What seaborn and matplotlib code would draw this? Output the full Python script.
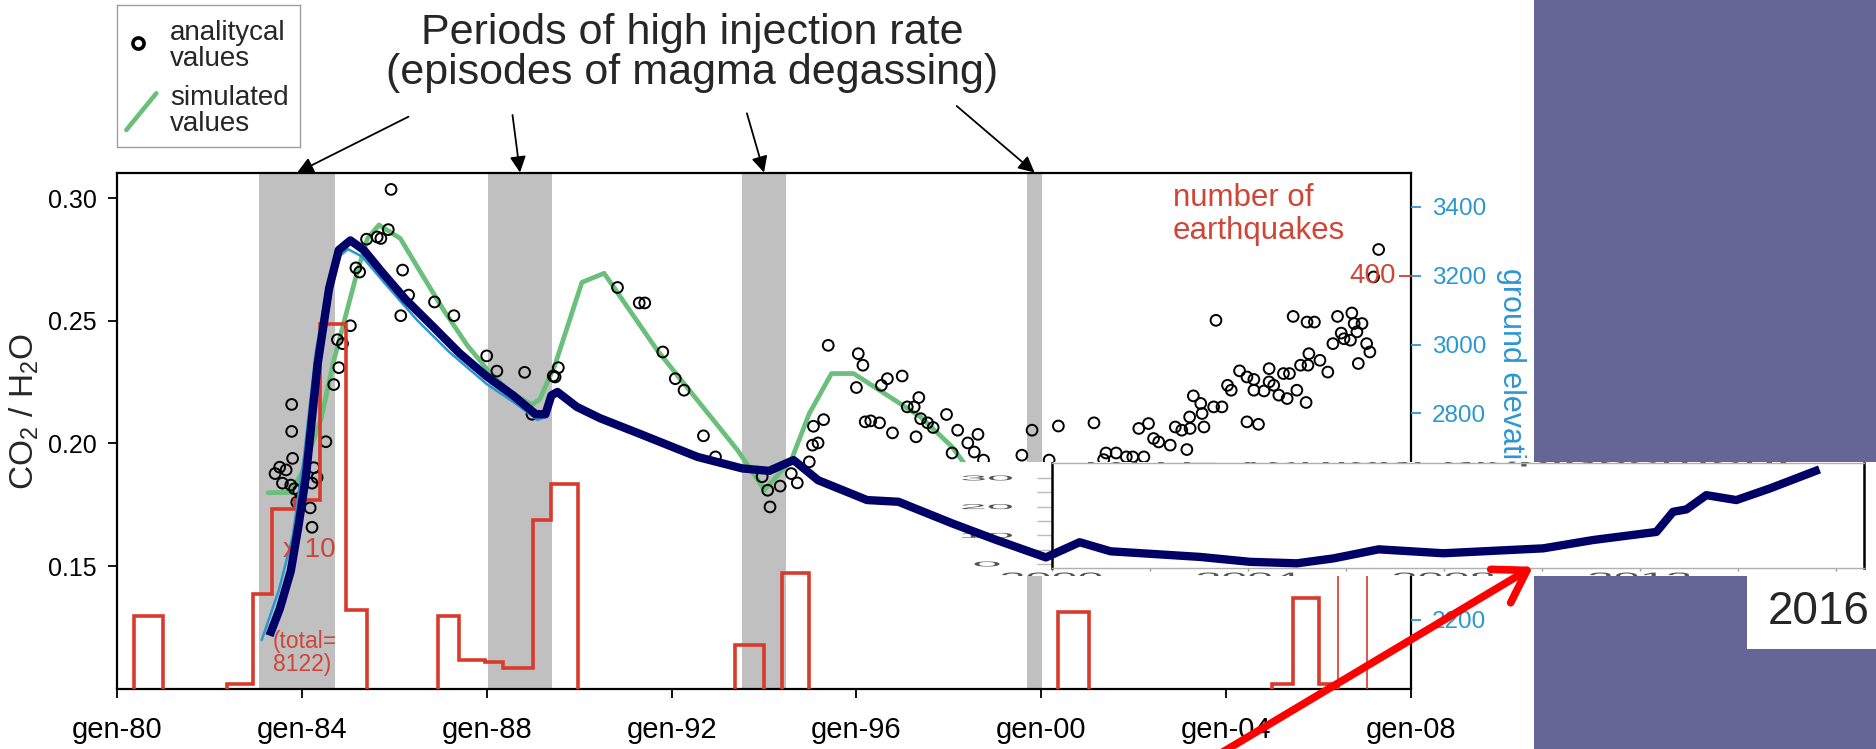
import numpy as np
import matplotlib.pyplot as plt
import matplotlib.transforms as mtrans
from matplotlib.patches import Rectangle, PathPatch
from matplotlib.textpath import TextPath
from matplotlib.font_manager import FontProperties
import seaborn as sns

# ---- data ----
# grey bands: periods of high injection rate (decimal years)
span_start = [1983.08, 1988.03, 1993.52, 1999.69]
span_end = [1984.72, 1989.41, 1994.48, 2000.02]

# CO2/H2O analytical values (open circles)
pt_years = [1985.93, 1985.40, 1985.63, 1985.71, 1985.87, 1985.17, 1985.25, 1986.18, 1986.31, 1986.14,
            1986.87, 1987.29, 1985.05, 1984.77, 1984.88, 1984.80, 1984.69, 1983.78, 1983.78, 1984.52,
            1983.80, 1983.42, 1983.52, 1983.66, 1983.58, 1983.76, 1983.84, 1983.93, 1984.26, 1984.33,
            1984.22, 1984.18, 1984.22, 1983.89, 1988.00, 1988.22, 1988.82, 1989.48, 1989.55, 1989.44,
            1988.98, 1990.83, 1991.30, 1991.42, 1991.81, 1992.08, 1992.27, 1992.69, 1992.95, 1993.96,
            1994.08, 1994.13, 1994.35, 1994.59, 1994.72, 1994.98, 1995.05, 1995.17, 1995.07, 1995.29,
            1995.39, 1996.04, 1996.14, 1996.00, 1996.19, 1996.31, 1996.50, 1996.78, 1996.54, 1996.67,
            1996.99, 1997.10, 1997.25, 1997.35, 1997.39, 1997.54, 1997.66, 1997.29, 1997.95, 1998.07,
            1998.19, 1998.41, 1998.63, 1998.55, 1998.75, 1999.58, 1999.80, 2000.37, 2001.14, 2000.17,
            2001.40, 2001.62, 2001.84, 2001.98, 2002.22, 2001.35, 2002.11, 2002.32, 2002.43, 2002.54,
            2002.79, 2002.90, 2003.04, 2003.15, 2003.21, 2003.22, 2003.29, 2003.45, 2003.48, 2003.52,
            2003.73, 2003.91, 2003.78, 2004.03, 2004.11, 2004.29, 2004.45, 2004.60, 2004.45, 2004.70,
            2004.60, 2004.82, 2004.93, 2004.93, 2005.03, 2005.14, 2005.32, 2005.24, 2005.37, 2005.53,
            2005.73, 2005.61, 2005.77, 2005.79, 2006.03, 2006.20, 2005.45, 2005.75, 2005.91, 2006.41,
            2006.72, 2006.77, 2006.94, 2006.83, 2006.49, 2006.55, 2006.69, 2006.31, 2007.04, 2007.11,
            2006.86, 2007.30, 2007.19]
pt_co2 = [0.3036, 0.2833, 0.2842, 0.2836, 0.2872, 0.2716, 0.2699, 0.2707, 0.2605, 0.2521,
          0.2577, 0.2521, 0.2480, 0.2423, 0.2407, 0.2309, 0.2240, 0.2159, 0.2049, 0.2007,
          0.1939, 0.1877, 0.1903, 0.1892, 0.1838, 0.1830, 0.1815, 0.1807, 0.1901, 0.1861,
          0.1838, 0.1737, 0.1658, 0.1760, 0.2357, 0.2295, 0.2290, 0.2271, 0.2309, 0.2275,
          0.2119, 0.2636, 0.2573, 0.2573, 0.2373, 0.2264, 0.2217, 0.2031, 0.1945, 0.1864,
          0.1809, 0.1741, 0.1826, 0.1877, 0.1839, 0.1925, 0.1993, 0.2002, 0.2070, 0.2097,
          0.2400, 0.2366, 0.2319, 0.2228, 0.2088, 0.2092, 0.2084, 0.2043, 0.2237, 0.2264,
          0.2275, 0.2149, 0.2149, 0.2187, 0.2101, 0.2084, 0.2065, 0.2027, 0.2118, 0.1961,
          0.2054, 0.2002, 0.2037, 0.1965, 0.1932, 0.1952, 0.2054, 0.2071, 0.2084, 0.1932,
          0.1961, 0.1961, 0.1945, 0.1945, 0.1945, 0.1934, 0.2061, 0.2081, 0.2020, 0.2006,
          0.1993, 0.2067, 0.2054, 0.1975, 0.2108, 0.2061, 0.2194, 0.2163, 0.2122, 0.2067,
          0.2149, 0.2149, 0.2502, 0.2237, 0.2217, 0.2296, 0.2271, 0.2261, 0.2088, 0.2078,
          0.2217, 0.2214, 0.2305, 0.2251, 0.2237, 0.2197, 0.2183, 0.2285, 0.2285, 0.2217,
          0.2167, 0.2319, 0.2319, 0.2366, 0.2339, 0.2291, 0.2518, 0.2495, 0.2495, 0.2518,
          0.2532, 0.2489, 0.2489, 0.2455, 0.2450, 0.2427, 0.2421, 0.2407, 0.2407, 0.2373,
          0.2326, 0.2791, 0.2679]

# simulated values (green line)
sim_years = [1983.27, 1983.76, 1984.00, 1984.42, 1984.67, 1985.17, 1985.42, 1985.67, 1986.13, 1986.58,
             1987.08, 1987.58, 1988.03, 1988.48, 1988.98, 1989.15, 1989.48, 1990.06, 1990.54, 1991.69,
             1992.56, 1993.43, 1994.01, 1994.59, 1994.98, 1995.46, 1995.94, 1996.72, 1997.39, 1998.07,
             1998.60]
sim_co2 = [0.1799, 0.1800, 0.1880, 0.2103, 0.2322, 0.2680, 0.2836, 0.2891, 0.2836, 0.2695,
           0.2540, 0.2400, 0.2298, 0.2213, 0.2158, 0.2181, 0.2322, 0.2657, 0.2694, 0.2380,
           0.2176, 0.1972, 0.1810, 0.1932, 0.2122, 0.2285, 0.2285, 0.2190, 0.2108, 0.1986,
           0.1850]

# ground elevation (thin blue line, mostly hidden by the overdrawn trend)
elev_years = [1983.13, 1983.50, 1983.80, 1984.05, 1984.30, 1984.55, 1984.80, 1985.00, 1985.30, 1985.80,
              1986.50, 1987.20, 1988.00, 1988.60, 1989.10, 1989.30]
elev_m = [2141, 2285, 2442, 2678, 2977, 3170, 3256, 3277, 3256, 3177,
          3070, 2977, 2885, 2831, 2781, 2791]

# number of earthquakes, stepped histogram (bin edges / counts per contiguous run)
eq_runs = [
    ([1980.37, 1980.99], [70]),
    ([1982.37, 1982.95, 1983.35, 1983.85, 1984.39, 1984.96, 1985.42], [4, 92, 174, 183, 353, 76]),
    ([1986.94, 1987.39, 1987.97, 1988.36, 1989.00, 1989.39, 1989.97], [70, 28, 26, 20, 163, 198]),
    ([1993.38, 1994.01], [42]),
    ([1994.39, 1994.98], [112]),
    ([2000.37, 2001.03], [74]),
    ([2004.99, 2005.44, 2006.02, 2006.43], [4, 88, 4]),
]
eq_thin_run = ([2006.43, 2007.04], [200])

# hand-drawn trend extending the series to 2016 (thick navy line)
trend_years = [1983.30, 1983.52, 1983.76, 1983.93, 1984.09, 1984.34, 1984.59, 1984.80, 1985.05, 1985.34,
               1985.75, 1986.25, 1986.83, 1987.41, 1987.99, 1988.57, 1989.06, 1989.27, 1989.40, 1989.53,
               1989.95, 1990.45, 1991.30, 1992.56, 1993.53, 1994.11, 1994.64, 1995.17, 1996.23, 1996.91,
               1998.07, 1999.03, 2000.10, 2000.83, 2001.50, 2003.44, 2004.52, 2005.53, 2006.32, 2007.30,
               2008.70, 2010.86, 2011.94, 2013.31, 2013.67, 2013.96, 2014.39, 2015.04, 2015.76, 2016.84]
trend_co2 = [0.1216, 0.1324, 0.1479, 0.1667, 0.1869, 0.2322, 0.2633, 0.2789, 0.2828, 0.2789,
             0.2695, 0.2586, 0.2478, 0.2368, 0.2275, 0.2196, 0.2119, 0.2119, 0.2196, 0.2210,
             0.2149, 0.2103, 0.2040, 0.1945, 0.1898, 0.1888, 0.1932, 0.1850, 0.1769, 0.1762,
             0.1674, 0.1606, 0.1535, 0.1597, 0.1560, 0.1537, 0.1517, 0.1511, 0.1531, 0.1568,
             0.1552, 0.1572, 0.1606, 0.1639, 0.1721, 0.1731, 0.1789, 0.1769, 0.1816, 0.1894]

x_ticks = [1980, 1984, 1988, 1992, 1996, 2000, 2004, 2008]
x_ticklabels = ['gen-80', 'gen-84', 'gen-88', 'gen-92', 'gen-96', 'gen-00', 'gen-04', 'gen-08']
co2_ticks = [0.15, 0.20, 0.25, 0.30]
elev_ticks = [2200, 2400, 2600, 2800, 3000, 3200, 3400]
eq_ticks = [400]

# inset (RITE vertical displacement screenshot)
inset_yticks = [0, 5, 10, 15, 20, 25, 30]
inset_ylabels = [0, 10, 20, 30]
inset_xlabels = [2000, 2004, 2008, 2012]

# ---- style ----
sns.set_style('ticks')
plt.rcParams['font.family'] = ['Liberation Sans', 'DejaVu Sans']
plt.rcParams['mathtext.fontset'] = 'custom'
plt.rcParams['mathtext.rm'] = 'Liberation Sans'
plt.rcParams['mathtext.it'] = 'Liberation Sans:italic'

RED = '#d83a2c'
RED_TXT = '#cf4538'
BLUE = '#2b97d0'
GREEN = '#6abf7a'
NAVY = '#000066'
GREY = '#c0c0c0'
PURPLE = '#656596'

W, H = 1876, 749


def rect(x0, y0, x1, y1):
    # pixel box (origin top-left) -> figure fraction rect
    return [x0 / W, 1 - y1 / H, (x1 - x0) / W, (y1 - y0) / H]


def fx(px):
    return px / W


def fy(py):
    return 1 - py / H


fig = plt.figure(figsize=(W / 100, H / 100), dpi=100)
px_trans = mtrans.Affine2D().scale(1 / W, -1 / H).translate(0, 1) + fig.transFigure

# ---- main chart ----
ax = fig.add_axes(rect(117, 172.5, 1411, 688.6), zorder=0)
ax_eq = ax.twinx()
ax_el = ax.twinx()

for s, e in zip(span_start, span_end):
    ax.axvspan(s, e, color=GREY, lw=0, zorder=0)

sns.lineplot(x=sim_years, y=sim_co2, ax=ax, color=GREEN, linewidth=3.4, sort=False, estimator=None, zorder=2)
sns.scatterplot(x=pt_years, y=pt_co2, ax=ax, s=60, facecolors='none', edgecolor='black',
                linewidth=1.4, zorder=3, legend=False)

for edges, counts in eq_runs:
    ax_eq.stairs(counts, edges, color=RED, lw=2.6, baseline=0)
ax_eq.stairs(eq_thin_run[1], eq_thin_run[0], color=RED, lw=1.2, baseline=0)

sns.lineplot(x=elev_years, y=elev_m, ax=ax_el, color=BLUE, linewidth=1.8, sort=False, estimator=None)

ax.set_xlim(1980, 2008)
ax.set_ylim(0.10, 0.3105)
ax_eq.set_ylim(0, 500.3)
ax_el.set_ylim(2000, 3500)

ax.set_xticks(x_ticks)
ax.set_xticklabels(x_ticklabels)
ax.set_yticks(co2_ticks)
ax.set_yticklabels([f'{v:.2f}' for v in co2_ticks])
ax.tick_params(axis='x', direction='out', length=6.5, width=1.3, labelsize=21, pad=13, colors='black')
ax.tick_params(axis='y', direction='out', length=6.5, width=1.3, labelsize=18, pad=8, colors='black')
for sp in ax.spines.values():
    sp.set_visible(True)
    sp.set_color('black')
    sp.set_linewidth(1.6)
ax.set_ylabel(r'CO$_2$ / H$_2$O', fontsize=24)
ax.yaxis.set_label_coords(-0.0587, 0.536)
ax.set_xlabel('')

for twin in (ax_eq, ax_el):
    for sp in twin.spines.values():
        sp.set_visible(False)
    twin.set_xlabel('')
    twin.set_ylabel('')

ax_eq.set_yticks(eq_ticks)
ax_eq.tick_params(axis='y', direction='in', length=8.5, width=1.3, color=RED, labelright=False, right=True, left=False)
for v in eq_ticks:
    ax_eq.annotate(str(v), xy=(1, v), xycoords=('axes fraction', 'data'), xytext=(-10.8, 0),
                   textcoords='offset points', ha='right', va='center', color=RED_TXT, fontsize=20)

ax_el.set_yticks(elev_ticks)
ax_el.tick_params(axis='y', direction='out', length=7, width=1.3, color=BLUE, labelcolor=BLUE,
                  labelsize=17.5, pad=8, right=True, left=False)
ax_el.text(1.0771, 0.815, 'ground elevation', transform=ax_el.transAxes, rotation=270,
           ha='center', va='top', color=BLUE, fontsize=22, clip_on=False)

# labels inside the chart
fig.text(fx(1173), fy(183), 'number of\nearthquakes', color=RED_TXT, fontsize=22.5, ha='left', va='top',
         linespacing=1.12)
fig.text(fx(283), fy(550), 'x 10', color=RED_TXT, fontsize=20, ha='left', va='center')
fig.text(fx(273), fy(653), '(total=\n8122)', color=RED_TXT, fontsize=16.5, ha='left', va='center',
         linespacing=1.0)

# title + arrows to the grey bands
fig.text(fx(692), fy(13), 'Periods of high injection rate\n(episodes of magma degassing)',
         ha='center', va='top', fontsize=31, linespacing=1.0)
arrow_tails = [(408.5, 116.7), (512.5, 115), (746.9, 113.3), (956.7, 106)]
for (s, e), (tx, ty) in zip(zip(span_start, span_end), arrow_tails):
    ax.annotate('', xy=((s + e) / 2, 1.0), xycoords=('data', 'axes fraction'),
                xytext=(fx(tx), fy(ty)), textcoords='figure fraction', annotation_clip=False,
                arrowprops=dict(arrowstyle='-|>', color='black', lw=1.3, mutation_scale=24,
                                shrinkA=0, shrinkB=0))

# legend box
ax_leg = fig.add_axes(rect(117, 5, 300, 147), zorder=1)
ax_leg.set_xlim(0, 183)
ax_leg.set_ylim(142, 0)
ax_leg.set_xticks([])
ax_leg.set_yticks([])
for sp in ax_leg.spines.values():
    sp.set_color('#a0a0a0')
    sp.set_linewidth(1)
ax_leg.plot([21.4], [38.3], marker='o', ms=8, mfc='none', mec='black', mew=2.6, ls='none')
ax_leg.plot([9.3, 39.3], [125, 88.3], color=GREEN, lw=3.3)
ax_leg.text(53, 15, 'analitycal\nvalues', fontsize=20, va='top', ha='left', linespacing=1.02)
ax_leg.text(53, 80, 'simulated\nvalues', fontsize=20, va='top', ha='left', linespacing=1.02)

# ---- pasted inset: RITE vertical displacement ----
ax_shot = fig.add_axes(rect(958, 461.7, 1876, 575.7), zorder=2)
ax_shot.set_facecolor('white')
ax_shot.set_xticks([])
ax_shot.set_yticks([])
for sp in ax_shot.spines.values():
    sp.set_visible(False)

ax_in = fig.add_axes(rect(1051.7, 462.5, 1864, 568), zorder=3)
ax_in.set_facecolor('none')
ax_in.set_xlim(2000, 2016.58)
ax_in.set_ylim(-1.395, 35.4)
ax_in.set_yticks(inset_yticks)
ax_in.set_xticks(list(range(2000, 2017, 2)))
ax_in.tick_params(axis='y', direction='out', length=10.8, width=1, color='#bbbbbb', labelleft=False)
ax_in.tick_params(axis='x', direction='out', length=2, width=1, color='#999999', labelbottom=False)
for side in ('left', 'right'):
    ax_in.spines[side].set_color('black')
    ax_in.spines[side].set_linewidth(1.8)
for side in ('top', 'bottom'):
    ax_in.spines[side].set_color('#b0b0b0')
    ax_in.spines[side].set_linewidth(1)


def squashed(host, s, cx, cy, w, h, color='#444444'):
    # text stretched flat, as in the resized screenshot
    tp = TextPath((0, 0), s, size=20, prop=FontProperties(family='Liberation Sans'))
    ext = tp.get_extents()
    tr = (mtrans.Affine2D().translate(-(ext.x0 + ext.x1) / 2, -(ext.y0 + ext.y1) / 2)
          .scale(w / ext.width, -h / ext.height).translate(cx, cy))
    host.add_artist(PathPatch(tr.transform_path(tp), transform=px_trans, fc=color, ec='none'))


for v in inset_ylabels:
    squashed(ax_shot, str(v), 987, 564 - v * 2.867, 25 * len(str(v)), 5, '#555555')
for yr in inset_xlabels:
    squashed(ax_shot, str(yr), 1051.7 + (yr - 2000) * 49, 577.5, 100, 10, '#555555')
squashed(ax_shot, 'RITE vertical displacement', 1440, 460.5, 704, 12, '#555555')

# ---- slide background pieces ----
for x0, y0, x1, y1 in [(1534, 0, 1876, 461.7), (1534, 575.7, 1747, 749), (1747, 649.3, 1876, 749)]:
    fig.add_artist(Rectangle((fx(x0), fy(y1)), (x1 - x0) / W, (y1 - y0) / H,
                             transform=fig.transFigure, facecolor=PURPLE, edgecolor='none', zorder=4))
fig.text(fx(1819), fy(612), '2016', fontsize=33, ha='center', va='center', zorder=5)

# ---- overlay: thick trend line and red arrow ----
ov = fig.add_axes(ax.get_position().bounds, zorder=6)
sns.lineplot(x=trend_years, y=trend_co2, ax=ov, color=NAVY, linewidth=6, sort=False, estimator=None,
             solid_capstyle='butt', solid_joinstyle='round')
for ln in ov.lines:
    ln.set_clip_on(False)
ov.set_xlim(ax.get_xlim())
ov.set_ylim(ax.get_ylim())
ov.set_axis_off()
ov.annotate('', xy=(2010.64, 0.1497), xytext=(2003.71, 0.0717), annotation_clip=False,
            arrowprops=dict(arrowstyle='->,head_length=0.55,head_width=0.35', color='red', lw=5.5,
                            mutation_scale=40, shrinkA=0, shrinkB=0))

fig.savefig('out.png', dpi=100)
